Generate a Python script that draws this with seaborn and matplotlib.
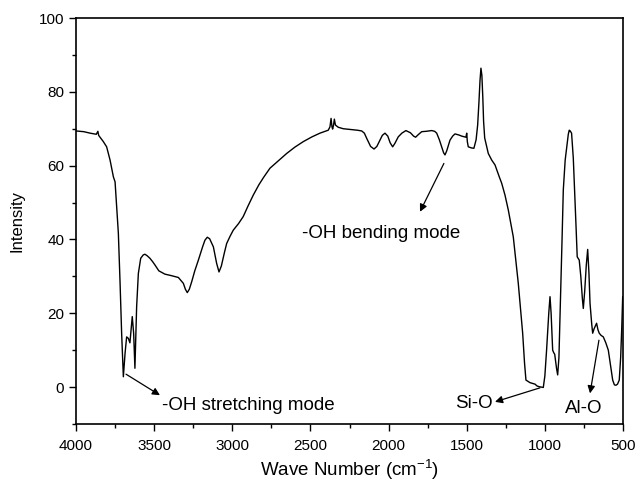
import matplotlib
matplotlib.use("Agg")
import matplotlib.pyplot as plt
import seaborn as sns
import pandas as pd
from matplotlib.ticker import MultipleLocator

wavenumber = [
    4000, 3950, 3910, 3870, 3860, 3855, 3825, 3804, 3782, 3761, 3750, 3740, 3729,
    3718, 3708, 3697, 3686, 3676, 3665, 3655, 3640, 3631, 3623, 3612, 3601, 3586,
    3570, 3559, 3545, 3527, 3510, 3495, 3470, 3431, 3390, 3345, 3313, 3300, 3288,
    3275, 3260, 3240, 3217, 3190, 3175, 3160, 3145, 3121, 3100, 3085, 3070, 3050,
    3036, 3015, 2994, 2960, 2930, 2900, 2866, 2830, 2800, 2759, 2700, 2652, 2600,
    2546, 2490, 2439, 2400, 2386, 2375, 2368, 2362, 2358, 2352, 2347, 2340, 2322,
    2290, 2247, 2200, 2172, 2155, 2140, 2115, 2093, 2075, 2055, 2040, 2023, 2005,
    1990, 1974, 1960, 1938, 1915, 1889, 1860, 1840, 1827, 1810, 1788, 1760, 1724,
    1705, 1692, 1675, 1660, 1648, 1639, 1628, 1607, 1590, 1575, 1550, 1532, 1505,
    1500, 1496, 1490, 1470, 1454, 1440, 1430, 1422, 1415, 1409, 1403, 1397, 1392,
    1385, 1372, 1362, 1340, 1319, 1292, 1276, 1255, 1234, 1202, 1170, 1142, 1130,
    1121, 1095, 1063, 1050, 1036, 1010, 1000, 989, 975, 967, 960, 950, 943, 937,
    925, 918, 910, 903, 890, 882, 870, 860, 850, 844, 838, 829, 818, 807, 800,
    793, 786, 780, 770, 760, 754, 745, 735, 726, 718, 711, 700, 694, 685, 669,
    660, 652, 640, 626, 610, 594, 580, 566, 555, 545, 535, 524, 515, 508, 502,
]
intensity = [
    69.4, 69.2, 68.8, 68.5, 69.3, 68.2, 66.5, 65.1, 61.5, 57.0, 55.6, 48.9, 41.7,
    28.2, 14.6, 2.8, 9.2, 13.6, 13.2, 12.0, 19.1, 14.5, 5.1, 21.8, 30.8, 34.9,
    35.8, 36.0, 35.6, 34.9, 34.0, 33.1, 31.5, 30.6, 30.2, 29.7, 28.1, 26.5, 25.6,
    26.5, 28.5, 31.5, 34.4, 38.0, 39.8, 40.6, 40.2, 38.0, 33.5, 31.2, 32.8, 36.5,
    38.9, 40.8, 42.5, 44.3, 46.2, 49.0, 52.0, 54.8, 56.8, 59.3, 61.5, 63.3, 65.0,
    66.5, 67.8, 68.8, 69.4, 69.6, 70.5, 72.8, 70.5, 69.9, 71.0, 72.6, 71.0, 70.4,
    70.0, 69.8, 69.6, 69.4, 68.8, 67.4, 65.2, 64.5, 65.2, 66.9, 68.2, 68.8, 68.0,
    66.2, 65.1, 66.0, 67.8, 68.8, 69.5, 68.9, 68.0, 67.7, 68.4, 69.2, 69.3, 69.5,
    69.3, 68.8, 67.0, 65.1, 63.5, 62.9, 64.0, 66.9, 68.0, 68.6, 68.3, 68.0, 67.7,
    68.8, 66.5, 65.1, 64.8, 64.7, 67.0, 71.0, 77.0, 83.0, 86.4, 84.5, 78.5, 72.0,
    67.5, 65.1, 63.3, 61.5, 60.2, 57.0, 55.2, 52.0, 48.0, 40.7, 28.1, 14.6, 6.5,
    1.9, 1.2, 0.8, 0.3, 0.1, -0.1, 3.0, 10.0, 20.0, 24.5, 20.0, 10.0, 9.3, 8.9,
    5.0, 3.3, 8.0, 19.0, 40.0, 53.4, 61.5, 65.1, 68.5, 69.6, 69.4, 68.8, 62.0,
    50.7, 43.0, 35.3, 34.8, 34.4, 30.0, 24.0, 21.3, 26.0, 33.0, 37.3, 31.0, 22.7,
    17.0, 14.6, 15.8, 17.3, 15.5, 14.6, 14.0, 13.6, 12.0, 10.0, 6.0, 1.9, 0.6,
    0.5, 0.8, 1.9, 8.0, 16.0, 24.5,
]

x_ticks = [4000, 3500, 3000, 2500, 2000, 1500, 1000, 500]
y_ticks = [0, 20, 40, 60, 80, 100]

annotation_texts = ["-OH stretching mode", "-OH bending mode", "Si-O", "Al-O"]
annotation_text_pos = [(3452, -6.2), (2556, 40.3), (1575, -5.8), (871, -7.1)]
arrow_start = [(3680, 3.5), (1646, 60.6), (1031, -0.2), (654, 12.7)]
arrow_end = [(3463, -2.2), (1799, 47.5), (1319, -4.0), (711, -1.7)]

sns.set_theme(style="ticks")
plt.rcParams["font.family"] = ["Liberation Sans", "DejaVu Sans"]
plt.rcParams["mathtext.fontset"] = "custom"
plt.rcParams["mathtext.rm"] = "Liberation Sans"

df = pd.DataFrame({"wn": wavenumber, "I": intensity})

fig = plt.figure(figsize=(6.37, 4.88), dpi=100)
ax = fig.add_axes([76 / 637, 1 - 424 / 488, (623 - 76) / 637, (424 - 18) / 488])

sns.lineplot(data=df, x="wn", y="I", ax=ax, color="black", linewidth=1.0,
             sort=False, estimator=None)

ax.set_xlim(4000, 500)
ax.set_ylim(-10, 100)
ax.set_xticks(x_ticks)
ax.set_yticks(y_ticks)
ax.xaxis.set_minor_locator(MultipleLocator(250))
ax.yaxis.set_minor_locator(MultipleLocator(10))
ax.tick_params(axis="both", which="major", direction="out", length=5, width=1,
               labelsize=11, color="black", labelcolor="black", top=False, right=False)
ax.tick_params(axis="both", which="minor", direction="out", length=3, width=1,
               color="black", top=False, right=False)
ax.tick_params(axis="x", which="major", pad=6)
for sp in ax.spines.values():
    sp.set_visible(True)
    sp.set_color("black")
    sp.set_linewidth(1.2)

ax.set_xlabel("Wave Number (cm$^{-1}$)", fontsize=13.5, labelpad=3, color="black")
ax.set_ylabel("Intensity", fontsize=12, labelpad=10, color="black")

for txt, tpos, s, e in zip(annotation_texts, annotation_text_pos, arrow_start, arrow_end):
    ax.annotate("", xy=e, xytext=s,
                arrowprops=dict(arrowstyle="-|>", color="black", lw=0.9,
                                mutation_scale=11, shrinkA=0, shrinkB=0))
    ax.text(tpos[0], tpos[1], txt, fontsize=13.5, ha="left", va="baseline",
            color="black")

fig.savefig("out.png", dpi=100, facecolor="white")
